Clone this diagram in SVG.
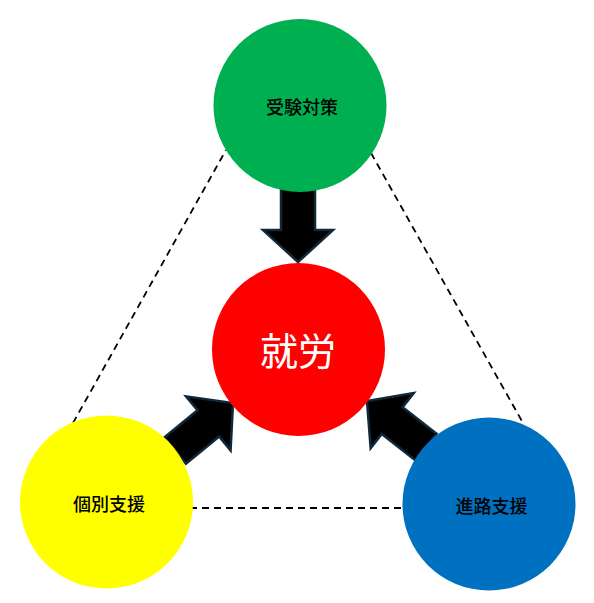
<svg xmlns="http://www.w3.org/2000/svg" width="594" height="603" viewBox="0 0 594 603">
<defs>
<style>
.dash{stroke:#000;stroke-width:1.8;stroke-dasharray:7,5;fill:none}
.arrow{fill:#000;stroke:#10283a;stroke-width:2.5;stroke-linejoin:miter}
.lbl{font-family:"Noto Sans CJK JP","Noto Sans",sans-serif;font-size:18px;font-weight:500;fill:#000;text-anchor:middle;dominant-baseline:central}
.main{font-family:"Noto Sans CJK JP","Noto Sans",sans-serif;font-size:38px;font-weight:400;fill:#fff;text-anchor:middle;dominant-baseline:central}
</style>
<path id="arr" d="M0,-17 H43 V-35 L75,0 L43,35 V17 H0 Z"/>
</defs>
<rect width="594" height="603" fill="#fff"/>
<g id="connectors">
<line class="dash" x1="73" y1="423" x2="226" y2="150"/>
<line class="dash" x1="371" y1="153" x2="523" y2="423"/>
<line class="dash" x1="190" y1="508" x2="406" y2="508"/>
<use href="#arr" class="arrow" transform="translate(298,262) rotate(90) translate(-75,0)"/>
<use href="#arr" class="arrow" transform="translate(233,403) rotate(-39.5) translate(-75,0)"/>
<use href="#arr" class="arrow" transform="translate(367,401) rotate(-142) translate(-75,0)"/>
</g>
<g id="node-juken">
<circle cx="300" cy="105.5" r="86.5" fill="#00B050"/>
<text class="lbl" x="302" y="106">受験対策</text>
</g>
<g id="node-shuro">
<circle cx="298.5" cy="349.5" r="86.5" fill="#FF0000"/>
<text class="main" x="298" y="348">就労</text>
</g>
<g id="node-kobetsu">
<circle cx="106.5" cy="502" r="86.5" fill="#FFFF00"/>
<text class="lbl" x="109" y="503">個別支援</text>
</g>
<g id="node-shinro">
<circle cx="489" cy="504" r="86.5" fill="#0070C0"/>
<text class="lbl" x="491.5" y="505">進路支援</text>
</g>
</svg>
